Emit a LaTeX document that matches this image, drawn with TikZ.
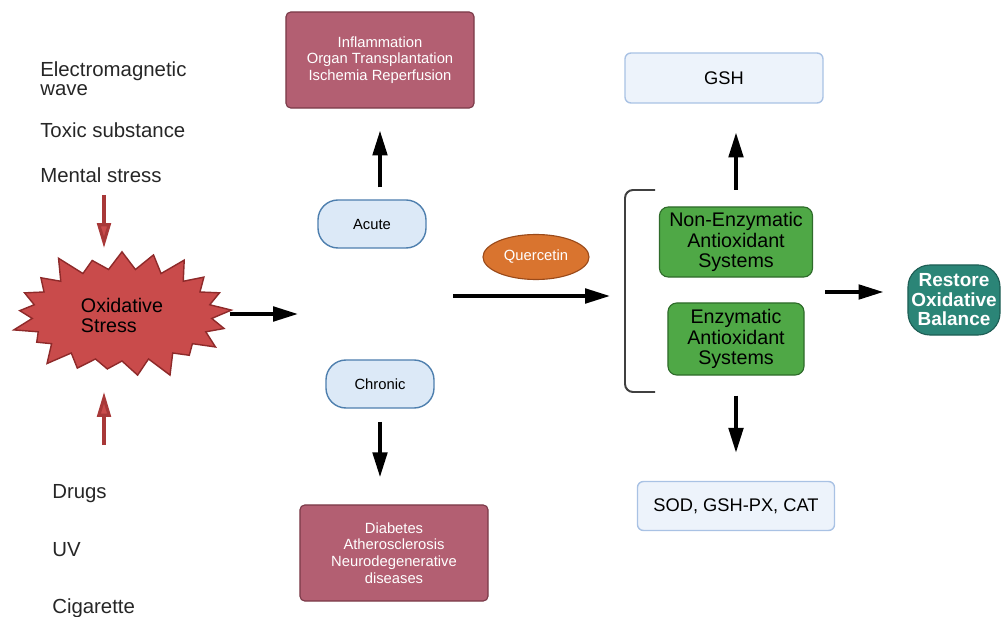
\documentclass[tikz,border=0pt]{standalone}
\usepackage{fontspec}
\setmainfont{Liberation Sans}
\usetikzlibrary{shapes,shapes.symbols,arrows.meta,calc}

\definecolor{burstred}{HTML}{C94B4B}
\definecolor{burstline}{HTML}{8E2A2A}
\definecolor{arrowred}{HTML}{A83838}
\definecolor{disease}{HTML}{B35F72}
\definecolor{diseaseline}{HTML}{7A3A48}
\definecolor{phasefill}{HTML}{DCE9F7}
\definecolor{phaseline}{HTML}{4E7FAE}
\definecolor{querc}{HTML}{D9742F}
\definecolor{quercline}{HTML}{9A4A1A}
\definecolor{enzfill}{HTML}{EDF3FB}
\definecolor{enzline}{HTML}{A9C2E4}
\definecolor{greenbox}{HTML}{4FA846}
\definecolor{greenline}{HTML}{2E6B2A}
\definecolor{teal}{HTML}{2B8577}
\definecolor{tealline}{HTML}{1E5E55}

\begin{document}
\begin{tikzpicture}[x=0.025cm,y=-0.025cm,
  cause/.style={inner sep=0pt, align=left, font=\fontsize{14.5}{13.5}\selectfont, text=black!85},
  burst/.style={starburst, starburst points=21, starburst point height=0.6cm,
     fill=burstred, draw=burstline, line width=1pt, minimum width=5.7cm, minimum height=3.5cm,
     inner sep=0pt, align=left, font=\fontsize{14}{14.2}\selectfont},
  phase/.style={draw=phaseline, fill=phasefill, line width=1pt, rounded corners=0.5cm,
     minimum width=2.7cm, minimum height=1.2cm, font=\fontsize{10.5}{12}\selectfont},
  illness/.style={draw=diseaseline, fill=disease, line width=0.8pt, rounded corners=0.12cm,
     minimum width=4.7cm, minimum height=2.4cm, text=white, align=center,
     font=\fontsize{10.5}{11.8}\selectfont},
  enzyme/.style={draw=enzline, fill=enzfill, line width=1pt, rounded corners=0.15cm,
     minimum width=4.95cm, minimum height=1.25cm, font=\fontsize{13}{14}\selectfont},
  system/.style={draw=greenline, fill=greenbox, line width=0.8pt, rounded corners=0.22cm,
     align=center, font=\fontsize{14}{14.6}\selectfont, inner sep=0pt},
  blk/.style={line width=2.6pt, -{Triangle[length=0.62cm,width=0.36cm]}},
  redarr/.style={line width=2.2pt, draw=arrowred, -{Triangle[length=0.62cm,width=0.34cm,fill=burstred]}}]

  \useasboundingbox (0,0) rectangle (1002,617);

  %causes
  \node[cause, anchor=north west] (em) at (40,61) {Electromagnetic\\wave};
  \foreach \name/\x/\y/\txt in {toxic/40/138/Toxic substance, mental/40/183/Mental stress,
                                drugs/52/498/Drugs, uv/52/556/UV, cig/52/613/Cigarette}{
      \node[cause, anchor=base west] (\name) at (\x,\y) {\txt};
  }

  %oxidative stress
  \node[burst] (burst) at (122,315) {Oxidative\\Stress};

  \coordinate (mtop) at (104,195);
  \coordinate (mtip) at (104,248);
  \coordinate (dbot) at (104,445);
  \coordinate (dtip) at (104,392);
  \draw[redarr] (mtop) -- (mtip);
  \draw[redarr] (dbot) -- (dtip);

  \coordinate (bend) at (298,314);
  \draw[blk, shorten <=0.2cm] (burst.east |- bend) -- (bend);

  %acute / chronic
  \node[phase] (acute) at (372,224) {Acute};
  \node[phase] (chronic) at (380,384) {Chronic};

  \node[illness] (inflam) at (380,60) {Inflammation\\Organ Transplantation\\Ischemia Reperfusion};
  \node[illness] (diab) at (394,553) {Diabetes\\Atherosclerosis\\Neurodegenerative\\diseases};

  \draw[blk, shorten <=0.3cm, shorten >=0.55cm] (acute.north -| inflam.south) -- (inflam.south);
  \draw[blk, shorten <=0.33cm, shorten >=0.68cm] (chronic.south) -- (chronic.south |- diab.north);

  %quercetin
  \node[ellipse, draw=quercline, fill=querc, line width=0.8pt, minimum width=2.65cm, minimum height=1.125cm,
        text=white, font=\fontsize{10.5}{12}\selectfont] (querc) at (536,257) {Quercetin};

  \coordinate (qstart) at (453,296);
  \coordinate (brk) at (625,296);
  \draw[blk, shorten >=0.375cm] (qstart) -- (brk);

  %bracket
  \draw[line width=1.4pt, black!75, rounded corners=0.2cm] (655,190) -- (625,190) -- (625,392) -- (655,392);

  %antioxidant systems
  \node[system, minimum width=3.825cm, minimum height=1.75cm] (nonenz) at (736,242) {Non-Enzymatic\\Antioxidant\\Systems};
  \node[system, minimum width=3.4cm, minimum height=1.8cm] (enz) at (736,339) {Enzymatic\\Antioxidant\\Systems};

  \node[enzyme] (gsh) at (724,78) {GSH};
  \node[enzyme, minimum width=4.925cm, minimum height=1.225cm] (sod) at (736,506) {SOD, GSH-PX, CAT};

  \draw[blk, shorten <=0.42cm, shorten >=0.72cm] (nonenz.north) -- (nonenz.north |- gsh.south);
  \draw[blk, shorten <=0.5cm, shorten >=0.7cm] (enz.south) -- (enz.south |- sod.north);

  %restore
  \node[draw=tealline, fill=teal, line width=0.8pt, rounded corners=0.55cm, minimum width=2.3cm,
        minimum height=1.75cm, inner sep=0pt, text=white, align=center,
        font=\bfseries\fontsize{13.5}{13.9}\selectfont] (restore) at (954,300) {Restore\\Oxidative\\Balance};

  \coordinate (grp) at (825,292);
  \draw[blk, shorten >=0.6cm] (grp) -- (grp -| restore.west);

\end{tikzpicture}
\end{document}
